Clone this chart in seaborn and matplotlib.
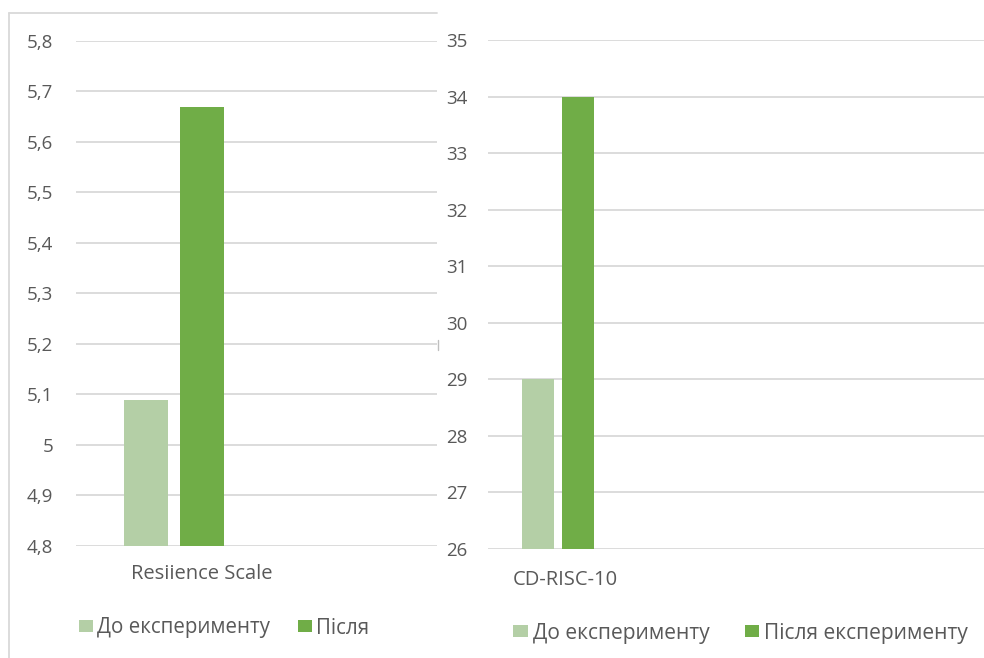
import matplotlib
matplotlib.use("Agg")
import matplotlib.pyplot as plt
from matplotlib.ticker import FuncFormatter, MultipleLocator
from matplotlib.transforms import ScaledTranslation
from matplotlib.lines import Line2D
import seaborn as sns
import pandas as pd

# Resilience Scale (mean scores)
rs_category = ["Resiience Scale"]
rs_groups = ["До експерименту", "Після"]
rs_values = [5.09, 5.67]

# CD-RISC-10 (mean scores)
cd_category = ["CD-RISC-10"]
cd_groups = ["До експерименту", "Після експерименту"]
cd_values = [29, 34]

palette_colors = ["#B4CFA6", "#70AD47"]
grid_color = "#D9D9D9"
text_color = "#595959"

sns.set_theme(style="white")
plt.rcParams["font.family"] = ["Open Sans", "DejaVu Sans"]

W, H = 984, 658
fig = plt.figure(figsize=(W / 100, H / 100), dpi=100)

TICK_FS = 13.5
CAT_FS = 14.5


def px_axes(x0, y0, x1, y1):
    """Axes placed by pixel edges (top-left origin)."""
    return fig.add_axes([x0 / W, 1 - y1 / H, (x1 - x0) / W, (y1 - y0) / H])


def comma_fmt(v, _):
    return f"{v:g}".replace(".", ",")


def style_axes(ax, ymin, ymax, step, pad):
    ax.set_ylim(ymin, ymax)
    ax.yaxis.set_major_locator(MultipleLocator(step))
    ax.yaxis.set_major_formatter(FuncFormatter(comma_fmt))
    ax.grid(axis="y", color=grid_color, linewidth=1.3)
    ax.set_axisbelow(True)
    for s in ax.spines.values():
        s.set_visible(False)
    ax.tick_params(axis="y", length=0, pad=pad, labelsize=TICK_FS, labelcolor=text_color)
    ax.tick_params(axis="x", length=0, labelsize=CAT_FS, labelcolor=text_color)
    ax.set_xlabel("")
    ax.set_ylabel("")


def shift_xlabels(ax, dx_px, dy_px):
    off = ScaledTranslation(dx_px / 100, -dy_px / 100, fig.dpi_scale_trans)
    for lab in ax.get_xticklabels():
        lab.set_transform(lab.get_transform() + off)


def add_legend(handles, labels, x_px, y_px, fs, hlen, hpad, colspace):
    fig.legend(handles, labels, loc="center left", bbox_to_anchor=(x_px / W, 1 - y_px / H),
               ncol=2, frameon=False, fontsize=fs, labelcolor=text_color, borderpad=0,
               borderaxespad=0, handlelength=hlen, handleheight=0.56, handletextpad=hpad,
               columnspacing=colspace)


# Left panel frame
fig.add_artist(Line2D([9 / W, 9 / W], [1 - 13 / H, 0], color=grid_color, lw=1.3))
fig.add_artist(Line2D([9 / W, 437 / W], [1 - 13 / H, 1 - 13 / H], color=grid_color, lw=1.3))
fig.add_artist(Line2D([438 / W, 438 / W], [1 - 340 / H, 1 - 350 / H], color="#BFBFBF", lw=1.0))

# Left chart
rs_df = pd.DataFrame({"scale": rs_category * len(rs_groups), "group": rs_groups, "value": rs_values})
ax1 = px_axes(76, 41, 437, 546)
sns.barplot(data=rs_df, x="scale", y="value", hue="group", palette=palette_colors,
            gap=0.21, width=0.8, ax=ax1, saturation=1, legend=True, linewidth=0)
ax1.set_xlim(-0.7, 1.879)
style_axes(ax1, 4.8, 5.8, 0.1, 16.5)
ax1.tick_params(axis="x", pad=13)
shift_xlabels(ax1, 28, 0)
h1, l1 = ax1.get_legend_handles_labels()
ax1.get_legend().remove()
add_legend(h1, l1, 79, 628, 14.8, 0.68, 0.18, 1.4)

# Right chart
cd_df = pd.DataFrame({"scale": cd_category * len(cd_groups), "group": cd_groups, "value": cd_values})
ax2 = px_axes(488, 40, 984, 549)
sns.barplot(data=cd_df, x="scale", y="value", hue="group", palette=palette_colors,
            gap=0.22, width=0.8, ax=ax2, saturation=1, legend=True, linewidth=0)
ax2.set_xlim(-0.7, 4.26)
style_axes(ax2, 26, 35, 1, 15)
ax2.tick_params(axis="x", pad=15)
shift_xlabels(ax2, 7, 0)
h2, l2 = ax2.get_legend_handles_labels()
ax2.get_legend().remove()
add_legend(h2, l2, 513, 633, 15.1, 0.71, 0.23, 1.68)

fig.savefig("out.png", dpi=100, facecolor="white")
